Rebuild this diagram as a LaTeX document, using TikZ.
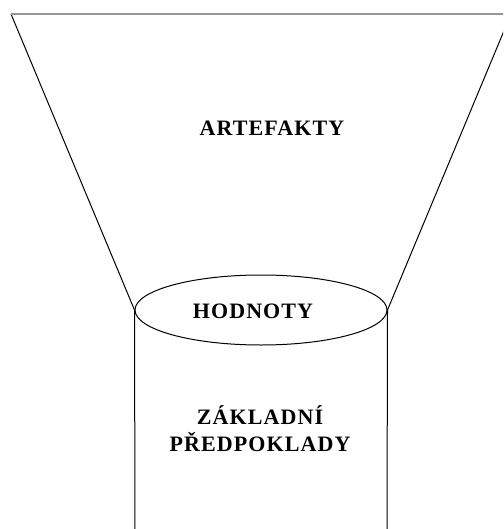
\documentclass[tikz,border=0pt]{standalone}
\usepackage{fontspec}
\newfontfamily\lblfont{Liberation Serif}[LetterSpace=5]
\usetikzlibrary{shapes.geometric}
\tikzset{
  edge/.style={draw=black, line width=1pt},
  topedge/.style={draw={rgb,255:red,150;green,150;blue,150}, line width=2.2pt},
  lbl/.style={font=\lblfont\bfseries\fontsize{22}{27}\selectfont, inner sep=0pt, anchor=base, align=center},
  ell/.style={ellipse, draw=black, line width=1pt, minimum width=252pt, minimum height=70pt, inner sep=0pt}
}
\begin{document}
\begin{tikzpicture}[x=1pt,y=-1pt]
\useasboundingbox (0,0) rectangle (503,529);
\clip (0,0) rectangle (503,529);
\coordinate (tl) at (11,14);
\coordinate (tr) at (511,14);
\coordinate (bl) at (135,535);
\coordinate (br) at (387,535);
\node[ell] (hod) at (261,310) {};
\draw[edge] (tl) -- (hod.west);
\draw[edge] (tr) -- (hod.east);
\draw[edge] (hod.west) -- (bl);
\draw[edge] (hod.east) -- (br);
\draw[topedge] (tl) -- (tr);
\node[lbl] (art) at (272,136) {ARTEFAKTY};
\node[lbl] (hodt) at (253,318) {HODNOTY};
\node[lbl] (zak) at (260,424) {ZÁKLADNÍ};
\node[lbl] (pred) at (260,451) {PŘEDPOKLADY};
\end{tikzpicture}
\end{document}
